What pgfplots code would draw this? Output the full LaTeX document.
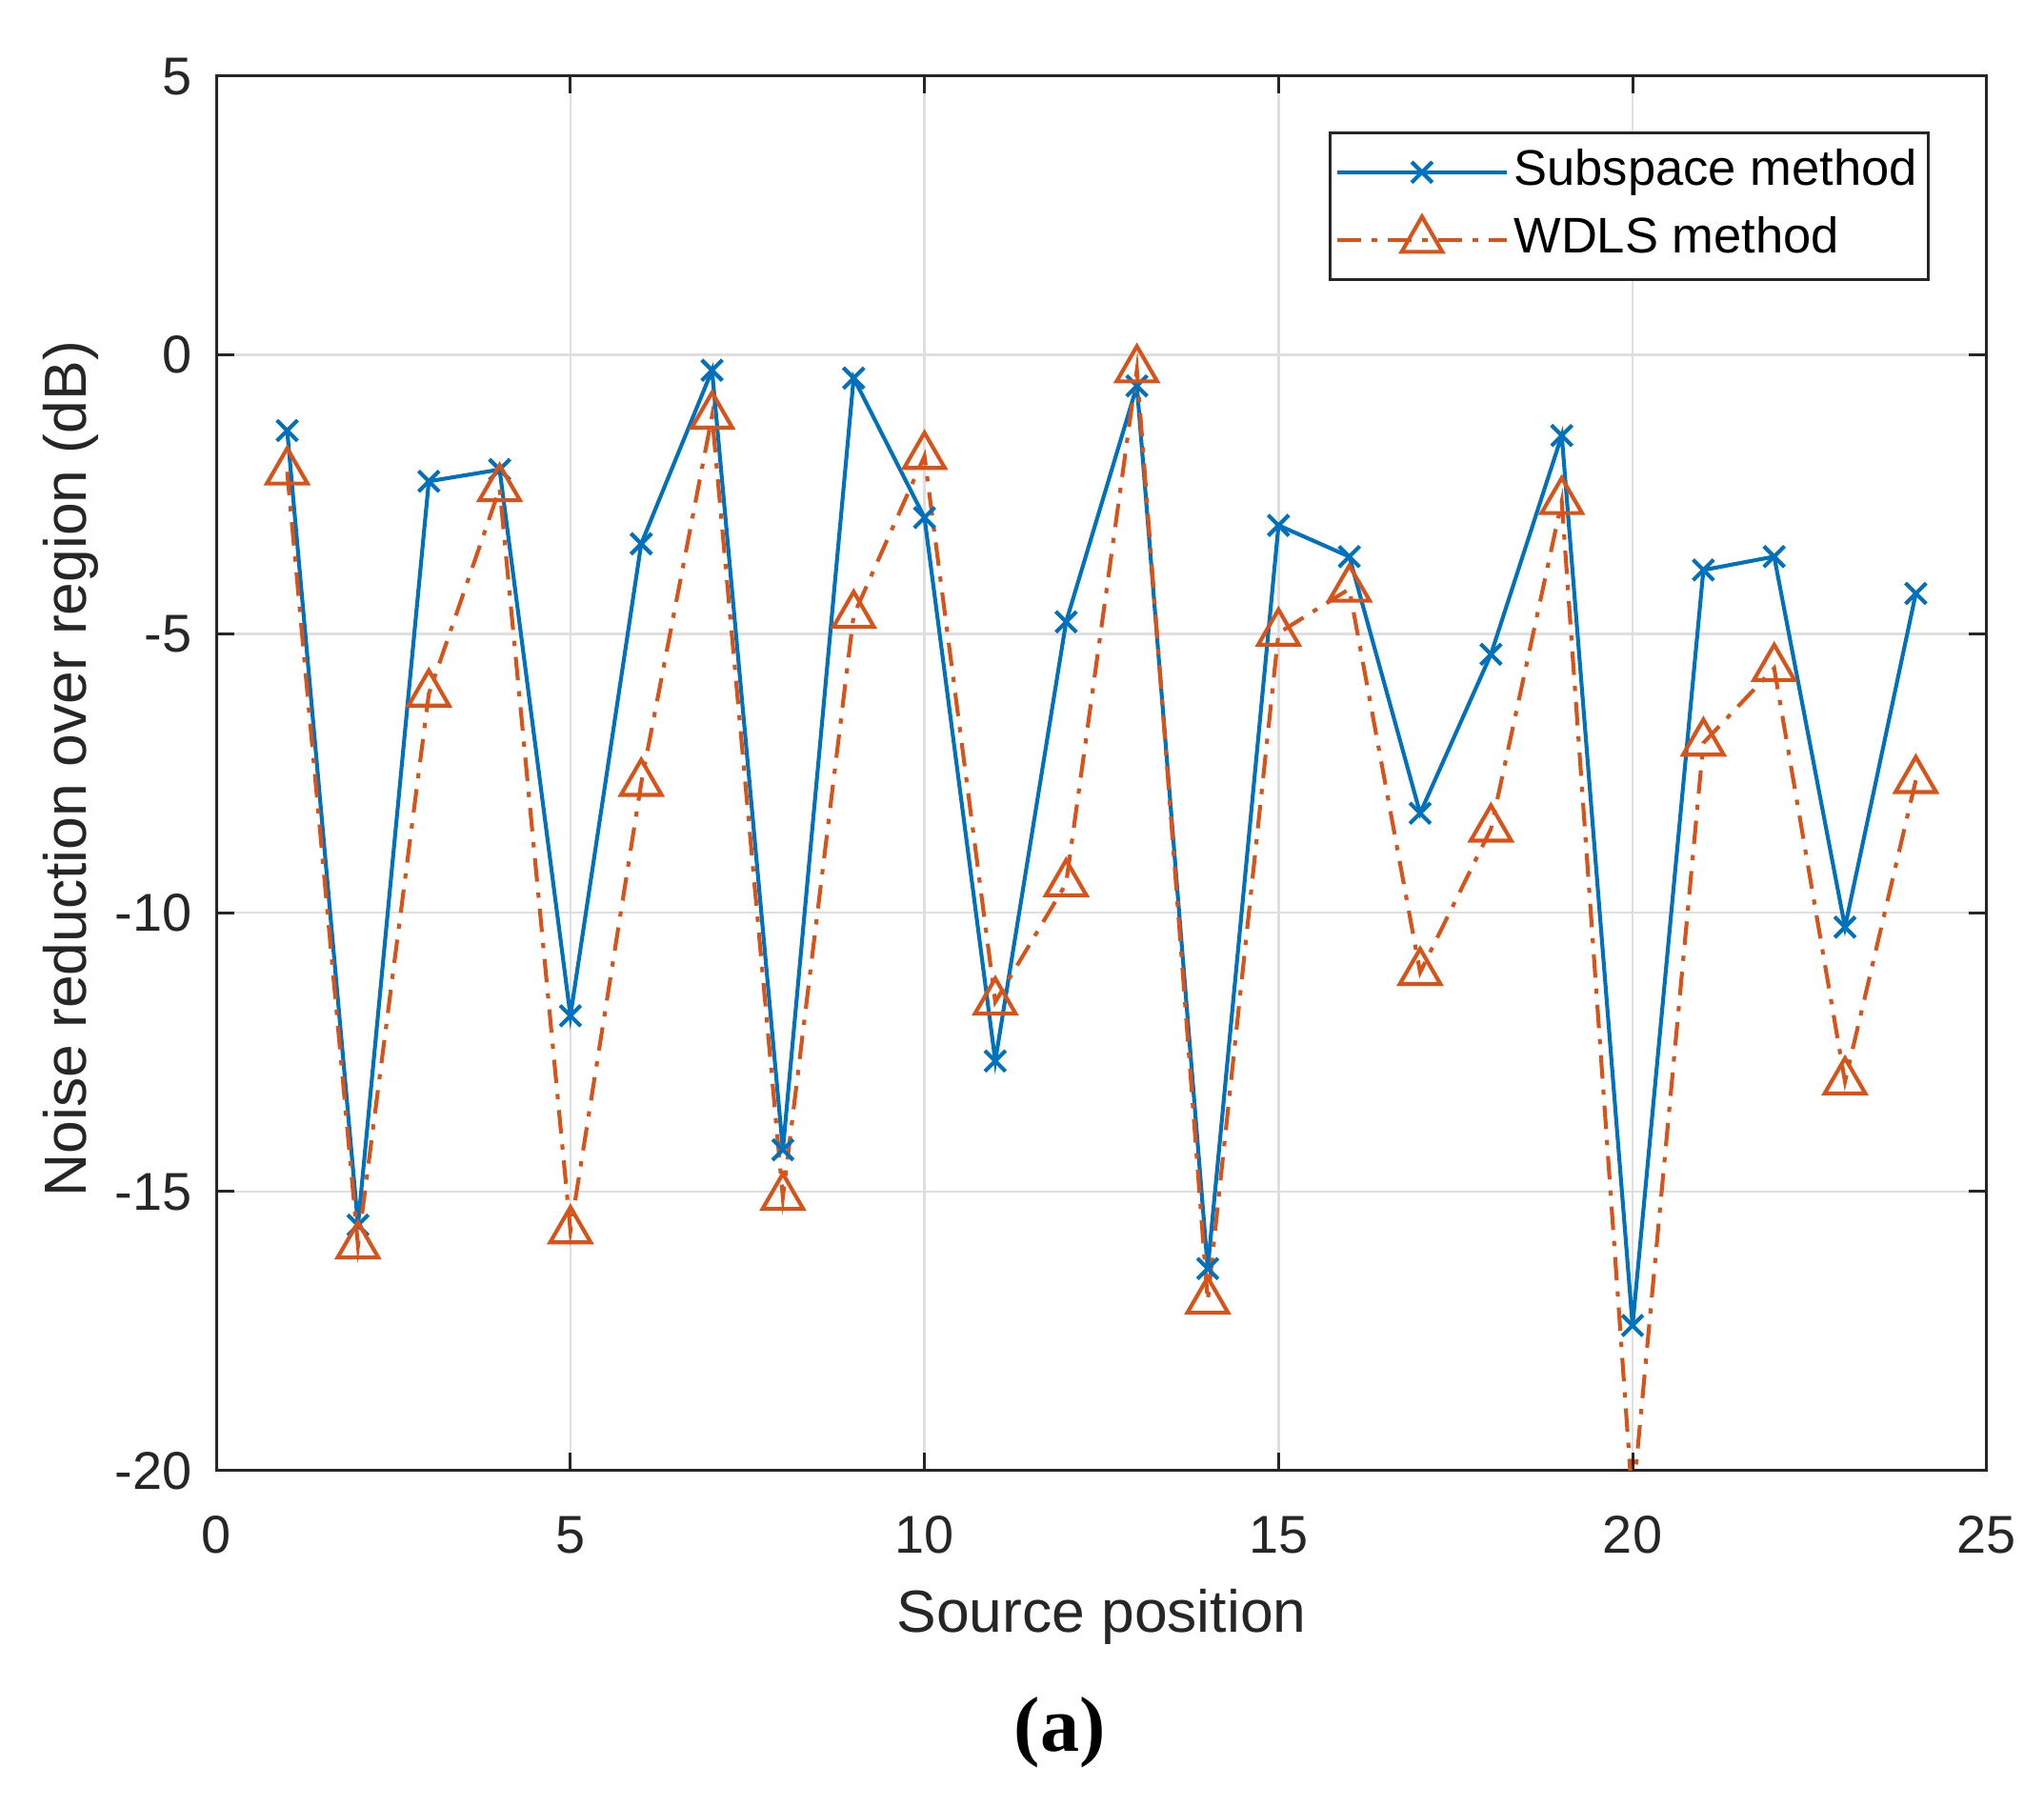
\documentclass[border=0pt]{standalone}
\usepackage{fontspec}
\setmainfont{Liberation Sans}
\newfontfamily\serifbf{Liberation Serif}
\usepackage{pgfplots}
\pgfplotsset{compat=1.18}
\definecolor{mblue}{RGB}{0,114,189}
\definecolor{morange}{RGB}{217,83,25}
\definecolor{axc}{RGB}{38,38,38}
\definecolor{gridc}{RGB}{223,223,223}
\begin{document}
\begin{tikzpicture}
\useasboundingbox (-41.5pt,-64.5pt) rectangle (350.5pt,282pt);
\begin{axis}[
  at={(0pt,0pt)}, anchor=south west,
  scale only axis, width=339.5pt, height=267.5pt,
  xmin=0, xmax=25, ymin=-20, ymax=5,
  xtick={0,5,...,25}, ytick={-20,-15,...,5},
  grid=major, major grid style={gridc, line width=0.5pt},
  axis line style={axc, line width=0.55pt},
  tick style={axc, line width=0.55pt},
  tick align=inside, major tick length=3.4pt,
  /pgf/number format/assume math mode=true,
  xticklabel style={font=\fontsize{10.2}{12}\selectfont, text=axc, anchor=base, inner sep=0pt, yshift=-15.75pt},
  yticklabel style={font=\fontsize{10.2}{12}\selectfont, text=axc, anchor=base east, inner sep=0pt, xshift=-4.5pt, yshift=-3.6pt},
  xlabel={Source position},
  ylabel={Noise reduction over region (dB)},
  every axis x label/.style={at={(axis description cs:0.5,-0.1159)}, anchor=base, font=\fontsize{11.4}{13}\selectfont, text=axc},
  every axis y label/.style={at={(axis description cs:-0.0736,0.503)}, anchor=base, rotate=90, font=\fontsize{11.4}{13}\selectfont, text=axc},
  legend style={at={(0.9676,0.9598)}, anchor=north east, draw=axc, line width=0.55pt,
    inner xsep=1pt, inner ysep=1pt, font=\fontsize{9.6}{11}\selectfont,
    nodes={inner xsep=1pt, inner ysep=1.5pt, text height=7.5pt, text depth=2.5pt}},
  legend cell align=left,
  legend image code/.code={\draw[mark repeat=2,mark phase=2,#1] plot coordinates {(0pt,0pt) (16.25pt,0pt) (32.5pt,0pt)};},
  clip=true,
]
\addplot[mblue, line width=0.75pt, mark=x, mark size=2.8pt, mark options={solid}] coordinates {
(1,-1.36) (2,-15.6) (3,-2.27) (4,-2.06) (5,-11.85) (6,-3.39) (7,-0.28) (8,-14.25)
(9,-0.42) (10,-2.92) (11,-12.66) (12,-4.79) (13,-0.56) (14,-16.38) (15,-3.06) (16,-3.62)
(17,-8.22) (18,-5.37) (19,-1.45) (20,-17.4) (21,-3.86) (22,-3.62) (23,-10.26) (24,-4.28)
};
\addlegendentry{Subspace method}
\addplot[morange, line width=0.75pt, dash pattern=on 4.5pt off 2.1pt on 1pt off 2.1pt, mark=triangle, mark size=4.5pt, mark options={solid}] coordinates {
(1,-2.1) (2,-15.97) (3,-6.08) (4,-2.4) (5,-15.7) (6,-7.68) (7,-1.1) (8,-15.1)
(9,-4.67) (10,-1.82) (11,-11.6) (12,-9.48) (13,-0.27) (14,-16.96) (15,-4.99) (16,-4.2)
(17,-11.07) (18,-8.5) (19,-2.63) (20,-20.6) (21,-6.96) (22,-5.62) (23,-13.03) (24,-7.63)
};
\addlegendentry{WDLS method}
\end{axis}
\node[font=\serifbf\bfseries\fontsize{15}{17}\selectfont, text=black] at (161.75pt,-50.25pt) {(a)};
\end{tikzpicture}
\end{document}
